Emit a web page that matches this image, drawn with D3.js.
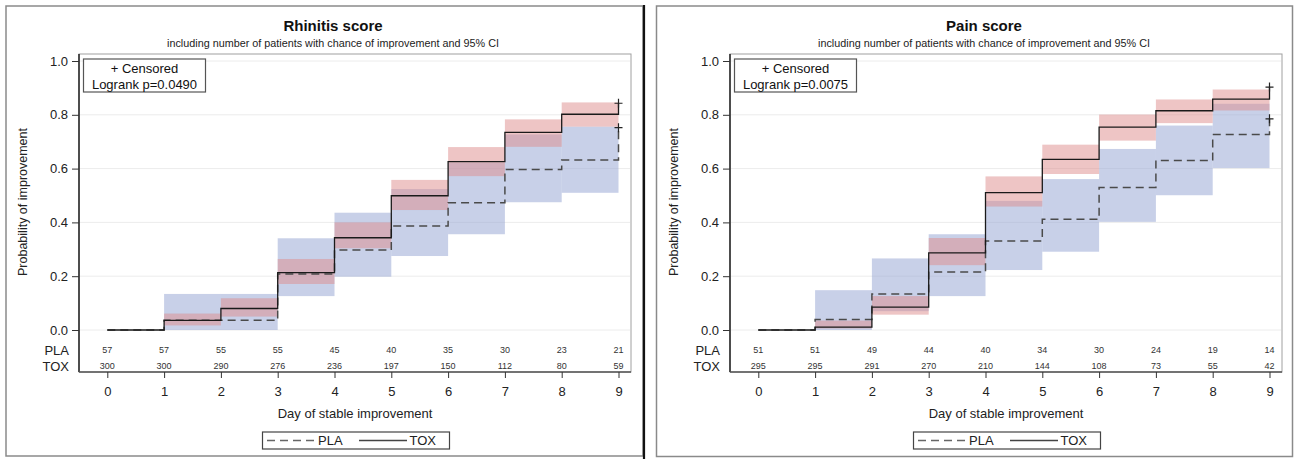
<!DOCTYPE html>
<html>
<head>
<meta charset="utf-8">
<script src="https://cdn.jsdelivr.net/npm/d3@7"></script>
<style>
  html, body { margin: 0; padding: 0; background: #fff; }
  svg { display: block; font-family: "Liberation Sans", Arial, sans-serif; }
</style>
</head>
<body>
<svg id="chart" width="1298" height="459"></svg>
<script>
// ---------------- DATA ----------------
const days = [0, 1, 2, 3, 4, 5, 6, 7, 8, 9];
const yTicks = [0, 0.2, 0.4, 0.6, 0.8, 1.0];

const panelTitles = ["Rhinitis score", "Pain score"];
const subtitle = "including number of patients with chance of improvement and 95% CI";
const pValues = ["Logrank p=0.0490", "Logrank p=0.0075"];
const groups = ["PLA", "TOX"];

// Step estimates for intervals [d, d+1), d = 0..8, then value at day 9 (censored point)
const rhinitisPLA = [0, 0.036, 0.036, 0.208, 0.297, 0.387, 0.473, 0.597, 0.632, 0.752];
const rhinitisTOX = [0, 0.036, 0.080, 0.213, 0.343, 0.499, 0.626, 0.735, 0.802, 0.843];
const painPLA     = [0, 0.039, 0.134, 0.216, 0.331, 0.412, 0.530, 0.630, 0.727, 0.785];
const painTOX     = [0, 0.011, 0.085, 0.287, 0.511, 0.634, 0.754, 0.815, 0.858, 0.903];

// 95% CI bands for intervals [d, d+1), d = 1..8  (lower, upper)
const ciDays = [1, 2, 3, 4, 5, 6, 7, 8];
const rhinitisPLAlo = [0.000, 0.000, 0.126, 0.198, 0.275, 0.356, 0.475, 0.510];
const rhinitisPLAhi = [0.134, 0.134, 0.341, 0.436, 0.524, 0.622, 0.727, 0.756];
const rhinitisTOXlo = [0.017, 0.050, 0.171, 0.304, 0.446, 0.572, 0.681, 0.756];
const rhinitisTOXhi = [0.061, 0.118, 0.264, 0.400, 0.558, 0.680, 0.783, 0.846];
const painPLAlo = [0.000, 0.070, 0.126, 0.223, 0.291, 0.402, 0.501, 0.602];
const painPLAhi = [0.148, 0.266, 0.356, 0.480, 0.561, 0.673, 0.760, 0.841];
const painTOXlo = [0.006, 0.057, 0.241, 0.459, 0.580, 0.704, 0.769, 0.816];
const painTOXhi = [0.035, 0.126, 0.342, 0.571, 0.689, 0.801, 0.857, 0.894];

// Number at risk
const rhinitisRiskPLA = [57, 57, 55, 55, 45, 40, 35, 30, 23, 21];
const rhinitisRiskTOX = [300, 300, 290, 276, 236, 197, 150, 112, 80, 59];
const painRiskPLA = [51, 51, 49, 44, 40, 34, 30, 24, 19, 14];
const painRiskTOX = [295, 295, 291, 270, 210, 144, 108, 73, 55, 42];

// ---------------- DRAW ----------------
const svg = d3.select("#chart");
const blueFill = "#9aaad6", redFill = "#dd8c8c";

const panels = [
  { dx: 0, title: panelTitles[0], p: pValues[0],
    pla: rhinitisPLA, tox: rhinitisTOX,
    plaLo: rhinitisPLAlo, plaHi: rhinitisPLAhi, toxLo: rhinitisTOXlo, toxHi: rhinitisTOXhi,
    riskPLA: rhinitisRiskPLA, riskTOX: rhinitisRiskTOX },
  { dx: 651, title: panelTitles[1], p: pValues[1],
    pla: painPLA, tox: painTOX,
    plaLo: painPLAlo, plaHi: painPLAhi, toxLo: painTOXlo, toxHi: painTOXhi,
    riskPLA: painRiskPLA, riskTOX: painRiskTOX }
];

// outer frames
svg.append("rect").attr("x", 6).attr("y", 6).attr("width", 637).attr("height", 450)
  .attr("fill", "none").attr("stroke", "#8a8a8a").attr("stroke-width", 1.5);
svg.append("line").attr("x1", 644).attr("x2", 644).attr("y1", 5).attr("y2", 459)
  .attr("stroke", "#111").attr("stroke-width", 2.2);
svg.append("rect").attr("x", 656.5).attr("y", 6).attr("width", 636).attr("height", 450.5)
  .attr("fill", "none").attr("stroke", "#8a8a8a").attr("stroke-width", 1.5);

const plotL = 79, plotR = 631, plotT = 54, plotB = 372;
const x = d3.scaleLinear().domain([0, 9]).range([107.3, 618.5]);
const y = d3.scaleLinear().domain([0, 1]).range([330, 61]);

panels.forEach(P => {
  const g = svg.append("g").attr("transform", `translate(${P.dx},0)`);

  // titles
  g.append("text").attr("x", 333).attr("y", 31).attr("text-anchor", "middle")
    .attr("font-size", 15).attr("font-weight", "bold").attr("fill", "#111").text(P.title);
  g.append("text").attr("x", 333).attr("y", 47).attr("text-anchor", "middle")
    .attr("font-size", 10.8).attr("fill", "#222").text(subtitle);

  // plot frame background
  g.append("rect").attr("x", plotL).attr("y", plotT).attr("width", plotR - plotL).attr("height", plotB - plotT)
    .attr("fill", "#fff").attr("stroke", "#a0a0a0").attr("stroke-width", 1);

  // grid
  g.selectAll(".grid").data(yTicks).join("line")
    .attr("x1", plotL + 1).attr("x2", plotR - 1)
    .attr("y1", d => y(d)).attr("y2", d => y(d))
    .attr("stroke", "#ececec").attr("stroke-width", 1);

  // CI bands
  g.selectAll(".ciPLA").data(ciDays).join("rect")
    .attr("x", d => x(d)).attr("width", d => x(d + 1) - x(d))
    .attr("y", (d, i) => y(P.plaHi[i])).attr("height", (d, i) => y(P.plaLo[i]) - y(P.plaHi[i]))
    .attr("fill", blueFill).attr("fill-opacity", 0.55);
  g.selectAll(".ciTOX").data(ciDays).join("rect")
    .attr("x", d => x(d)).attr("width", d => x(d + 1) - x(d))
    .attr("y", (d, i) => y(P.toxHi[i])).attr("height", (d, i) => y(P.toxLo[i]) - y(P.toxHi[i]))
    .attr("fill", redFill).attr("fill-opacity", 0.5);

  // step lines
  const line = d3.line().x(d => x(d[0])).y(d => y(d[1])).curve(d3.curveStepAfter);
  const plaPts = days.map((d, i) => [d, P.pla[i]]);
  const toxPts = days.map((d, i) => [d, P.tox[i]]);
  g.append("path").attr("d", line(plaPts)).attr("fill", "none")
    .attr("stroke", "#4a4a4a").attr("stroke-width", 1.5).attr("stroke-dasharray", "8,5");
  g.append("path").attr("d", line(toxPts)).attr("fill", "none")
    .attr("stroke", "#1a1a1a").attr("stroke-width", 1.3);

  // censored markers
  [[9, P.pla[9]], [9, P.tox[9]]].forEach(c => {
    const cx = x(c[0]), cy = y(c[1]);
    g.append("path").attr("d", `M${cx - 4},${cy}H${cx + 4}M${cx},${cy - 4.5}V${cy + 4.5}`)
      .attr("stroke", "#222").attr("stroke-width", 1.2).attr("fill", "none");
  });

  // frame left & bottom
  g.append("line").attr("x1", plotL).attr("x2", plotL).attr("y1", plotT).attr("y2", plotB)
    .attr("stroke", "#222").attr("stroke-width", 1.5);
  g.append("line").attr("x1", plotL).attr("x2", plotR).attr("y1", plotB).attr("y2", plotB)
    .attr("stroke", "#555").attr("stroke-width", 1.5);

  // y axis
  const ya = g.append("g").attr("transform", `translate(${plotL},0)`)
    .call(d3.axisLeft(y).tickValues(yTicks).tickFormat(d3.format(".1f")).tickSize(7).tickPadding(4));
  ya.select(".domain").remove();
  ya.selectAll("text").attr("font-size", 13).attr("fill", "#222").attr("font-family", "Liberation Sans, Arial, sans-serif");
  ya.selectAll("line").attr("stroke", "#333");

  // x axis
  const xa = g.append("g").attr("transform", `translate(0,${plotB})`)
    .call(d3.axisBottom(x).tickValues(days).tickFormat(d3.format("d")).tickSize(6).tickPadding(9));
  xa.select(".domain").remove();
  xa.selectAll("text").attr("font-size", 13).attr("fill", "#222").attr("font-family", "Liberation Sans, Arial, sans-serif");
  xa.selectAll("line").attr("stroke", "#333");

  // axis labels
  g.append("text").attr("transform", "translate(27,202) rotate(-90)").attr("text-anchor", "middle")
    .attr("font-size", 12.5).attr("fill", "#222").text("Probability of improvement");
  g.append("text").attr("x", 355).attr("y", 418).attr("text-anchor", "middle")
    .attr("font-size", 13).attr("fill", "#222").text("Day of stable improvement");

  // at-risk table
  const riskRows = [[groups[0], P.riskPLA, 350], [groups[1], P.riskTOX, 366]];
  riskRows.forEach(r => {
    g.append("text").attr("x", 69).attr("y", r[2]).attr("dy", "0.35em").attr("text-anchor", "end")
      .attr("font-size", 13).attr("fill", "#222").text(r[0]);
    g.selectAll(null).data(r[1]).join("text")
      .attr("x", (d, i) => x(days[i])).attr("y", r[2]).attr("dy", "0.35em")
      .attr("text-anchor", "middle").attr("font-size", 9).attr("fill", "#333").text(d => d);
  });

  // inset legend
  g.append("rect").attr("x", 83.5).attr("y", 59).attr("width", 122).attr("height", 33)
    .attr("fill", "#fff").attr("stroke", "#555").attr("stroke-width", 1.2);
  g.append("text").attr("x", 144.5).attr("y", 68).attr("dy", "0.35em").attr("text-anchor", "middle")
    .attr("font-size", 13).attr("fill", "#111").text("+ Censored");
  g.append("text").attr("x", 144.5).attr("y", 84).attr("dy", "0.35em").attr("text-anchor", "middle")
    .attr("font-size", 13).attr("fill", "#111").text(P.p);

  // bottom legend
  const lg = g.append("g");
  lg.append("rect").attr("x", 262.5).attr("y", 432).attr("width", 187).attr("height", 17)
    .attr("fill", "#fff").attr("stroke", "#444").attr("stroke-width", 1.2);
  lg.append("line").attr("x1", 267).attr("x2", 315).attr("y1", 440.5).attr("y2", 440.5)
    .attr("stroke", "#666").attr("stroke-width", 1.3).attr("stroke-dasharray", "8,5");
  lg.append("text").attr("x", 318).attr("y", 440.5).attr("dy", "0.35em").attr("font-size", 13)
    .attr("fill", "#222").text(groups[0]);
  lg.append("line").attr("x1", 359).attr("x2", 407).attr("y1", 440.5).attr("y2", 440.5)
    .attr("stroke", "#444").attr("stroke-width", 1.3);
  lg.append("text").attr("x", 409.5).attr("y", 440.5).attr("dy", "0.35em").attr("font-size", 13)
    .attr("fill", "#222").text(groups[1]);
});
</script>
</body>
</html>
